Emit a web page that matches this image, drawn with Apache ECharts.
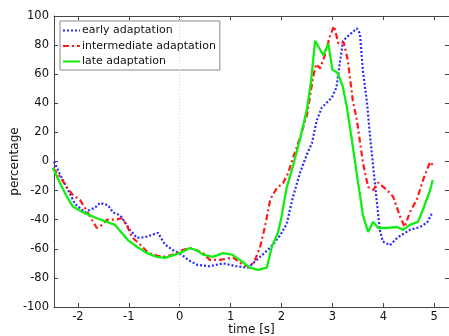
<!DOCTYPE html>
<html>
<head>
<meta charset="utf-8">
<script src="https://cdn.jsdelivr.net/npm/echarts@6/dist/echarts.min.js"></script>
<style>
  html, body { margin: 0; padding: 0; background: #fff; }
  #chart { width: 449px; height: 336px; }
</style>
</head>
<body>
<div id="chart"></div>
<script>
// Response curves (percentage vs. time) for three adaptation stages
const xTicks = [-2, -1, 0, 1, 2, 3, 4, 5];
const yTicks = [-100, -80, -60, -40, -20, 0, 20, 40, 60, 80, 100];

const earlyTime = [-2.47, -2.35, -2.26, -2.16, -2.06, -1.96, -1.86, -1.76, -1.67, -1.57, -1.41, -1.31, -1.17, -1.08, -0.98, -0.84, -0.68, -0.55, -0.43, -0.29, -0.13, 0.04, 0.16, 0.34, 0.59, 0.85, 1.12, 1.34, 1.58, 1.77, 1.97, 2.1, 2.22, 2.36, 2.5, 2.6, 2.69, 2.79, 2.99, 3.08, 3.15, 3.21, 3.3, 3.48, 3.54, 3.6, 3.68, 3.74, 3.84, 3.93, 3.99, 4.13, 4.29, 4.52, 4.72, 4.86, 4.95];
const earlyValue = [0, -9, -15, -22, -29, -32, -35, -33, -32, -28.5, -30, -35, -37, -41.5, -47, -52.5, -52, -50.5, -49, -57, -61, -64, -67.5, -71, -72, -70, -72, -73, -65.5, -59.5, -51, -43, -25, -8, 5, 13, 28, 37, 44, 51, 69, 83, 86, 91.5, 88, 62, 40, 17, -17, -47, -55, -57.5, -52, -47, -45, -42, -36];

const interTime = [-2.49, -2.35, -2.22, -2.1, -1.96, -1.86, -1.76, -1.63, -1.53, -1.43, -1.27, -1.14, -1.04, -0.94, -0.78, -0.64, -0.53, -0.33, -0.13, 0.04, 0.2, 0.33, 0.46, 0.59, 0.79, 1.05, 1.24, 1.38, 1.48, 1.58, 1.68, 1.78, 1.91, 2.03, 2.13, 2.22, 2.36, 2.5, 2.62, 2.68, 2.76, 2.85, 2.95, 3.03, 3.12, 3.22, 3.3, 3.4, 3.48, 3.6, 3.7, 3.8, 3.9, 4.07, 4.19, 4.33, 4.42, 4.52, 4.66, 4.78, 4.92, 4.97];
const interValue = [-4.5, -10.6, -17.5, -23, -26.4, -32, -38, -45.7, -43.6, -40, -40, -39, -43.6, -52, -57, -62, -64, -65.6, -64, -61, -59.5, -61, -63, -67.6, -67.6, -66, -71, -72.5, -67.6, -58.6, -44, -26, -18, -15, -8, 2, 16, 32, 58, 67, 64, 73, 86, 93, 81, 82, 70, 42, 28.5, -1, -17.5, -19.6, -14.5, -19.6, -24, -38, -45, -35, -26, -12.7, -0.3, -2.4];

const lateTime = [-2.49, -2.35, -2.22, -2.1, -1.92, -1.76, -1.63, -1.43, -1.27, -1.14, -1.02, -0.84, -0.64, -0.45, -0.29, -0.09, 0.06, 0.2, 0.33, 0.46, 0.65, 0.85, 1.03, 1.18, 1.38, 1.54, 1.71, 1.81, 1.93, 2.0, 2.1, 2.22, 2.36, 2.5, 2.58, 2.66, 2.74, 2.82, 2.92, 3.0, 3.1, 3.2, 3.28, 3.36, 3.48, 3.6, 3.7, 3.8, 3.9, 4.07, 4.27, 4.39, 4.52, 4.68, 4.78, 4.92, 4.97];
const lateValue = [-4.5, -15, -24, -31, -34.6, -37, -39, -41.5, -43.6, -49, -54, -58.6, -63, -65.6, -66.3, -64, -62, -59.5, -61, -64, -65.6, -63, -64, -67.6, -73, -74.5, -73, -58.6, -49, -38, -18, -3.8, 15, 36, 55, 83, 78, 73, 81, 63, 61, 52, 38, 20, -9, -37, -48.4, -41.5, -45.7, -45.7, -45, -47, -43.6, -41.5, -33, -19.6, -12.7];

const seriesNames = ['early adaptation', 'intermediate adaptation', 'late adaptation'];

function pairs(xs, ys) {
  return xs.map((x, i) => [x, ys[i]]);
}

const FONT = 'DejaVu Sans';
const TEXT = '#111';
const FRAME = '#444';

const chart = echarts.init(document.getElementById('chart'), null, { renderer: 'canvas' });

const frameX = {
  type: 'value', min: -2.47, max: 5.29,
  axisLine: { show: true, onZero: false, lineStyle: { color: FRAME, width: 1 } },
  axisTick: { show: true, inside: true, length: 4, customValues: xTicks, lineStyle: { color: FRAME } },
  splitLine: { show: false }
};
const frameY = {
  type: 'value', min: -100, max: 100, interval: 20,
  axisLine: { show: true, onZero: false, lineStyle: { color: FRAME, width: 1 } },
  axisTick: { show: true, inside: true, length: 4, lineStyle: { color: FRAME } },
  splitLine: { show: false }
};

chart.setOption({
  animation: false,
  backgroundColor: '#fff',
  grid: { left: 54, right: 0, top: 16, bottom: 29, containLabel: false, outerBoundsMode: 'none' },
  legend: {
    left: 60, top: 21,
    orient: 'vertical',
    data: seriesNames,
    itemWidth: 17, itemHeight: 11, itemGap: 4.5,
    padding: [4, 4, 3, 2],
    backgroundColor: '#fff',
    borderColor: '#8a8a8a', borderWidth: 1,
    itemStyle: { color: 'rgba(0,0,0,0)', borderWidth: 0 },
    textStyle: { fontFamily: FONT, fontSize: 11, color: TEXT, padding: [0, 0, 0, -3] }
  },
  xAxis: [
    Object.assign({}, frameX, {
      position: 'bottom',
      name: 'time [s]', nameLocation: 'middle', nameGap: 16.5, nameMoveOverlap: false,
      nameTextStyle: { fontFamily: FONT, fontSize: 12, color: TEXT },
      axisLabel: { show: true, customValues: xTicks, margin: 4, fontFamily: FONT, fontSize: 11.5, color: TEXT }
    }),
    Object.assign({}, frameX, { position: 'top', axisLabel: { show: false } })
  ],
  yAxis: [
    Object.assign({}, frameY, {
      position: 'left',
      name: 'percentage', nameLocation: 'middle', nameGap: 33, nameMoveOverlap: false,
      nameTextStyle: { fontFamily: FONT, fontSize: 12, color: TEXT },
      axisLabel: { show: true, margin: 5, fontFamily: FONT, fontSize: 11.5, color: TEXT }
    }),
    Object.assign({}, frameY, { position: 'right', axisLabel: { show: false } })
  ],
  series: [
    {
      name: seriesNames[0], type: 'line', symbol: 'none', smooth: false,
      xAxisIndex: 0, yAxisIndex: 0,
      data: pairs(earlyTime, earlyValue),
      lineStyle: { color: '#2a2aff', width: 2.2, type: [2, 2] },
      itemStyle: { color: '#2a2aff' },
      z: 3,
      markLine: {
        silent: true, symbol: 'none', label: { show: false },
        lineStyle: { color: '#d4d4d4', width: 1, type: [1, 2] },
        data: [{ xAxis: 0 }]
      }
    },
    {
      name: seriesNames[1], type: 'line', symbol: 'none', smooth: false,
      xAxisIndex: 0, yAxisIndex: 0,
      data: pairs(interTime, interValue),
      lineStyle: { color: '#ff1a1a', width: 2.2, type: [6, 3, 2, 3] },
      itemStyle: { color: '#ff1a1a' },
      z: 4
    },
    {
      name: seriesNames[2], type: 'line', symbol: 'none', smooth: false,
      xAxisIndex: 0, yAxisIndex: 0,
      data: pairs(lateTime, lateValue),
      lineStyle: { color: '#11ee11', width: 2.3, type: 'solid' },
      itemStyle: { color: '#11ee11' },
      z: 5
    }
  ]
});
</script>
</body>
</html>
